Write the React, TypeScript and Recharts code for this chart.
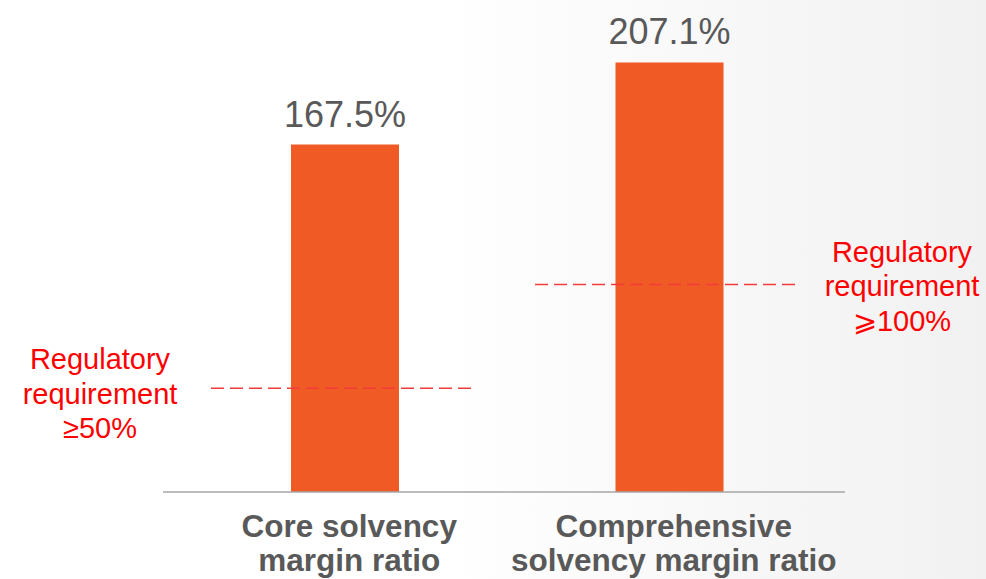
import * as React from 'react';
import { BarChart, Bar, XAxis, YAxis, LabelList, ReferenceLine } from 'recharts';

const categories = ['Core solvency margin ratio', 'Comprehensive solvency margin ratio'];
const categoryLines = [
  ['Core solvency', 'margin ratio'],
  ['Comprehensive', 'solvency margin ratio'],
];
const ratios = [167.5, 207.1];
const requirementValues = [50, 100];
const requirementLabels = [
  ['Regulatory', 'requirement', '≥50%'],
  ['Regulatory', 'requirement', '⩾100%'],
];

const data = categories.map((c, i) => ({ name: c, value: ratios[i] }));

const FONT = '"Liberation Sans", Arial, sans-serif';
const W = 986;
const H = 579;
const PLOT_LEFT = 163;
const PLOT_RIGHT = 845;

// horizontal extent of each dashed line (px from page left) and label centre
const refLayout = [
  { x1: 211, x2: 473, labelX: 100, firstBaseline: -19 },
  { x1: 535, x2: 800, labelX: 902, firstBaseline: -23 },
];

const CategoryTick = (props: any) => {
  const { x, y, payload } = props;
  const lines = categoryLines[payload.index] || [payload.value];
  return (
    <text x={x + 4} y={y} textAnchor="middle" fill="#595959" fontFamily={FONT} fontWeight="bold" fontSize={31.5}>
      {lines.map((l, i) => (
        <tspan key={i} x={x + 4} dy={i === 0 ? 37 : 34}>
          {l}
        </tspan>
      ))}
    </text>
  );
};

const makeRefShape = (idx: number) => (p: any) => {
  const lay = refLayout[idx];
  const y = p.y1;
  return (
    <g>
      <line x1={lay.x1} x2={lay.x2} y1={y} y2={y} stroke="#f23c3c" strokeWidth={1.5} strokeDasharray="13 6" />
      <text x={lay.labelX} y={y + lay.firstBaseline} textAnchor="middle" fill="#ff0000" fontFamily={FONT} fontSize={29}>
        {requirementLabels[idx].map((l, i) => (
          <tspan key={i} x={lay.labelX} dy={i === 0 ? 0 : 34.5}>
            {l}
          </tspan>
        ))}
      </text>
    </g>
  );
};

export default function App() {
  return (
    <div
      style={{
        position: 'absolute',
        left: 0,
        top: 0,
        width: W,
        height: H,
        background: 'linear-gradient(to right, #ffffff 0%, #ffffff 45%, #f1f1f1 100%)',
      }}
    >
      <BarChart
        width={W}
        height={H}
        data={data}
        margin={{ top: 15, right: W - PLOT_RIGHT, bottom: 0, left: PLOT_LEFT }}
      >
        <XAxis
          dataKey="name"
          height={87}
          padding={{ left: 20, right: 13 }}
          axisLine={{ stroke: '#a6a6a6', strokeWidth: 1.5 }}
          tickLine={false}
          tick={<CategoryTick />}
          interval={0}
        />
        <YAxis hide domain={[0, 230]} />
        <Bar dataKey="value" fill="#f05a24" barSize={108} isAnimationActive={false}>
          <LabelList
            dataKey="value"
            position="top"
            offset={18}
            formatter={(v: any) => `${v}%`}
            fill="#595959"
            fontSize={36}
            fontFamily={FONT}
          />
        </Bar>
        {requirementValues.map((v, i) => (
          <ReferenceLine key={i} y={v} ifOverflow="visible" shape={makeRefShape(i)} />
        ))}
      </BarChart>
    </div>
  );
}
